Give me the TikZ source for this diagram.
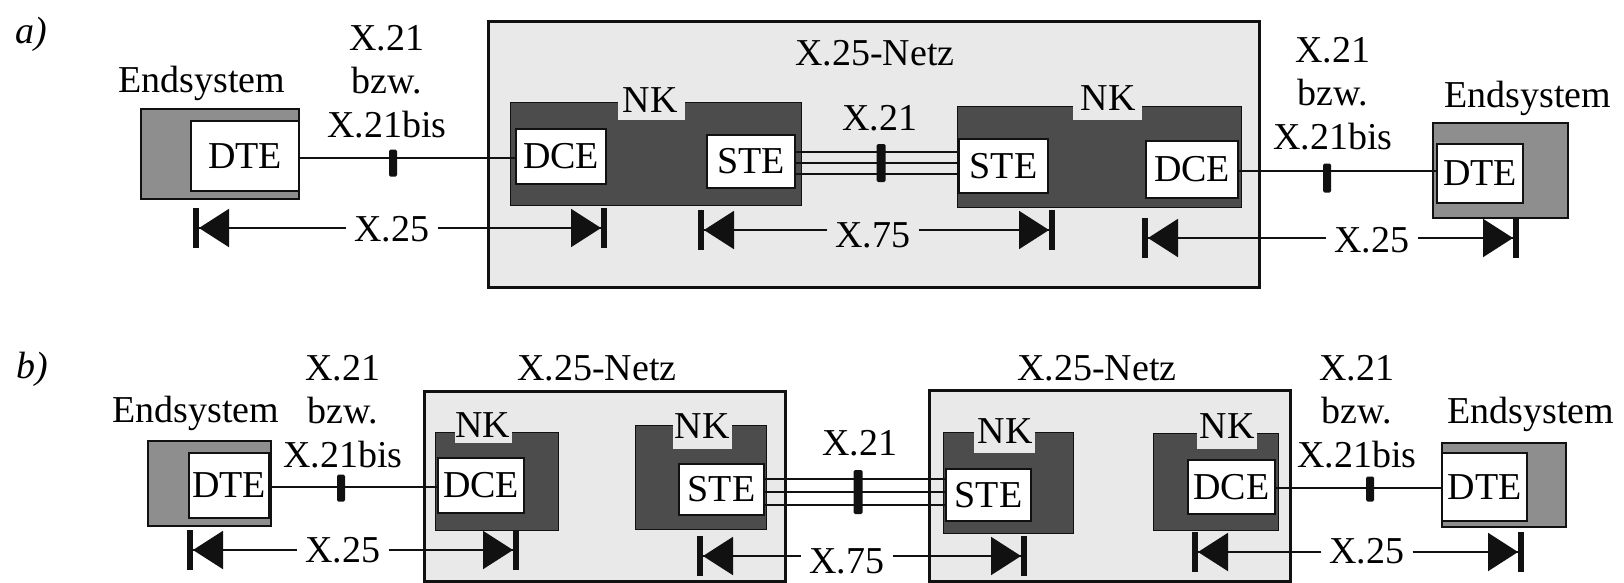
\documentclass[tikz,border=0pt]{standalone}
\definecolor{XNet}{HTML}{E9E9E9}
\definecolor{XNode}{HTML}{4C4C4C}
\definecolor{XHost}{HTML}{8E8E8E}
\definecolor{XLine}{HTML}{111111}
\usepackage{fontspec}
\setmainfont{Liberation Serif}
\usepackage{tikz}
\usetikzlibrary{arrows.meta,positioning}
\newcommand{\ifacestack}[3]{% {name}{x}{first baseline}
  \node[anchor=base] (#1a) at (#2,#3) {X.21};
  \node[anchor=base] (#1b) at (#2,#3+43) {bzw.};
  \node[anchor=base] (#1c) at (#2,#3+87) {X.21bis};%
}

\begin{document}
\begin{tikzpicture}[x=1pt,y=-1pt,
    every node/.style={font=\fontsize{38}{44}\selectfont,inner sep=0pt},
    netz/.style={rectangle,draw=XLine,line width=2.5pt,fill=XNet,anchor=north west},
    nk/.style={rectangle,draw=XLine,line width=1pt,fill=XNode,anchor=north west},
    notch/.style={rectangle,fill=XNet,anchor=north west},
    host/.style={rectangle,draw=XLine,line width=1.5pt,fill=XHost,anchor=north west},
    unit/.style={rectangle,draw=XLine,line width=2pt,fill=white,anchor=north west},
    tickmark/.style={rectangle,fill=XLine,minimum width=8pt,rounded corners=1.5pt},
    wire/.style={draw=XLine,line width=2pt},
    gapped/.style={inner xsep=8pt},
    ivl/.style={draw=XLine,line width=2pt,
      -{Triangle[length=30pt,width=38pt]Bar[width=40pt,line width=6pt]}}]
  \path[use as bounding box,fill=white] (0,0) rectangle (1624,582);

  % a)
  \node[anchor=base,font=\fontsize{38}{44}\selectfont\itshape] (tagA) at (31,43) {a)};
  \node[netz,minimum width=771pt,minimum height=266pt] (netA) at (487,20) {};
  \node[anchor=base] (netAlbl) at (875,65) {X.25-Netz};

  \node[host,minimum width=158pt,minimum height=90pt] (hostA1) at (140,108) {};
  \node[unit,minimum width=108pt,minimum height=70pt] (dteA1) at (190,120) {DTE};
  \node[anchor=base] (hostA1lbl) at (202,92) {Endsystem};
  \ifacestack{ifA1}{387}{50}

  \node[nk,minimum width=291pt,minimum height=103pt] (nkA1) at (510,102) {};
  \node[notch,minimum width=67pt,minimum height=19pt] (gapA1) at (618,101) {};
  \node[anchor=base] (nkA1lbl) at (650,112) {NK};
  \node[unit,minimum width=90pt,minimum height=55pt] (dceA1) at (515,128) {DCE};
  \node[unit,minimum width=88pt,minimum height=53pt] (steA1) at (706,134) {STE};

  \node[nk,minimum width=284pt,minimum height=101pt] (nkA2) at (957,106) {};
  \node[notch,minimum width=69pt,minimum height=15pt] (gapA2) at (1073,105) {};
  \node[anchor=base] (nkA2lbl) at (1108,110) {NK};
  \node[unit,minimum width=89pt,minimum height=54pt] (steA2) at (958,138) {STE};
  \node[unit,minimum width=92pt,minimum height=57pt] (dceA2) at (1145,140) {DCE};

  \node[host,minimum width=135pt,minimum height=95pt] (hostA2) at (1432,122) {};
  \node[unit,minimum width=86pt,minimum height=59pt] (dteA2) at (1436,143) {DTE};
  \node[anchor=base] (hostA2lbl) at (1528,107) {Endsystem};
  \ifacestack{ifA2}{1333}{62}

  \draw[wire] (dteA1.east |- 0,158) -- (dceA1.west |- 0,158);
  \node[tickmark,minimum height=27pt] (tkA1) at (393,163) {};
  \foreach \wy in {152,163,174}
    \draw[wire] (steA1.east |- 0,\wy) -- (steA2.west |- 0,\wy);
  \node[tickmark,minimum width=9pt,minimum height=38pt] (tkA2) at (881,163) {};
  \node[anchor=base] (x21A) at (880,130) {X.21};
  \draw[wire] (dceA2.east |- 0,171) -- (dteA2.west |- 0,171);
  \node[tickmark,minimum height=29pt] (tkA3) at (1327,178) {};

  \coordinate (ivA1l) at (193,228);
  \coordinate (ivA1r) at (607,228);
  \node[gapped] (x25A1) at (392,229) {X.25};
  \draw[ivl] (x25A1.west |- ivA1l) -- (ivA1l);
  \draw[ivl] (x25A1.east |- ivA1r) -- (ivA1r);
  \coordinate (ivA2l) at (698,230);
  \coordinate (ivA2r) at (1055,230);
  \node[gapped] (x75A) at (873,235) {X.75};
  \draw[ivl] (x75A.west |- ivA2l) -- (ivA2l);
  \draw[ivl] (x75A.east |- ivA2r) -- (ivA2r);
  \coordinate (ivA3l) at (1142,238);
  \coordinate (ivA3r) at (1519,238);
  \node[gapped] (x25A2) at (1372,240) {X.25};
  \draw[ivl] (x25A2.west |- ivA3l) -- (ivA3l);
  \draw[ivl] (x25A2.east |- ivA3r) -- (ivA3r);

  % b)
  \node[anchor=base,font=\fontsize{38}{44}\selectfont\itshape] (tagB) at (32,378) {b)};
  \node[netz,minimum width=361pt,minimum height=190pt] (netB1) at (423,390) {};
  \node[anchor=base] (netB1lbl) at (597,380) {X.25-Netz};
  \node[netz,minimum width=361pt,minimum height=191pt] (netB2) at (928,389) {};
  \node[anchor=base] (netB2lbl) at (1097,380) {X.25-Netz};

  \node[host,minimum width=123pt,minimum height=85pt] (hostB1) at (147,440) {};
  \node[unit,minimum width=80pt,minimum height=65pt] (dteB1) at (188,452) {DTE};
  \node[anchor=base] (hostB1lbl) at (196,422) {Endsystem};
  \ifacestack{ifB1}{343}{380}

  \node[nk,minimum width=123pt,minimum height=98pt] (nkB1) at (435,432) {};
  \node[notch,minimum width=57pt,minimum height=12pt] (gapB1) at (455,431) {};
  \node[anchor=base] (nkB1lbl) at (483,437) {NK};
  \node[unit,minimum width=86pt,minimum height=55pt] (dceB1) at (437,457) {DCE};

  \node[nk,minimum width=131pt,minimum height=104pt] (nkB2) at (635,425) {};
  \node[notch,minimum width=59pt,minimum height=25pt] (gapB2) at (673,424) {};
  \node[anchor=base] (nkB2lbl) at (702,438) {NK};
  \node[unit,minimum width=85pt,minimum height=51pt] (steB1) at (678,463) {STE};

  \node[nk,minimum width=130pt,minimum height=101pt] (nkB3) at (943,432) {};
  \node[notch,minimum width=61pt,minimum height=22pt] (gapB3) at (974,431) {};
  \node[anchor=base] (nkB3lbl) at (1005,443) {NK};
  \node[unit,minimum width=85pt,minimum height=52pt] (steB2) at (945,468) {STE};

  \node[nk,minimum width=125pt,minimum height=97pt] (nkB4) at (1153,433) {};
  \node[notch,minimum width=60pt,minimum height=17pt] (gapB4) at (1197,432) {};
  \node[anchor=base] (nkB4lbl) at (1227,438) {NK};
  \node[unit,minimum width=87pt,minimum height=54pt] (dceB2) at (1187,459) {DCE};

  \node[host,minimum width=124pt,minimum height=84pt] (hostB2) at (1441,442) {};
  \node[unit,minimum width=85pt,minimum height=68pt] (dteB2) at (1441,452) {DTE};
  \node[anchor=base] (hostB2lbl) at (1531,423) {Endsystem};
  \ifacestack{ifB2}{1357}{380}

  \draw[wire] (dteB1.east |- 0,487) -- (dceB1.west |- 0,487);
  \node[tickmark,minimum height=27pt] (tkB1) at (341,488) {};
  \foreach \wy in {479,492,505}
    \draw[wire] (steB1.east |- 0,\wy) -- (steB2.west |- 0,\wy);
  \node[tickmark,minimum width=9pt,minimum height=44pt] (tkB2) at (858,492) {};
  \node[anchor=base] (x21B) at (860,455) {X.21};
  \draw[wire] (dceB2.east |- 0,488) -- (dteB2.west |- 0,488);
  \node[tickmark,minimum height=25pt] (tkB3) at (1370,489) {};

  \coordinate (ivB1l) at (187,550);
  \coordinate (ivB1r) at (519,550);
  \node[gapped] (x25B1) at (343,550) {X.25};
  \draw[ivl] (x25B1.west |- ivB1l) -- (ivB1l);
  \draw[ivl] (x25B1.east |- ivB1r) -- (ivB1r);
  \coordinate (ivB2l) at (697,556);
  \coordinate (ivB2r) at (1027,556);
  \node[gapped] (x75B) at (847,561) {X.75};
  \draw[ivl] (x75B.west |- ivB2l) -- (ivB2l);
  \draw[ivl] (x75B.east |- ivB2r) -- (ivB2r);
  \coordinate (ivB3l) at (1192,552);
  \coordinate (ivB3r) at (1524,552);
  \node[gapped] (x25B2) at (1367,551) {X.25};
  \draw[ivl] (x25B2.west |- ivB3l) -- (ivB3l);
  \draw[ivl] (x25B2.east |- ivB3r) -- (ivB3r);
\end{tikzpicture}
\end{document}
